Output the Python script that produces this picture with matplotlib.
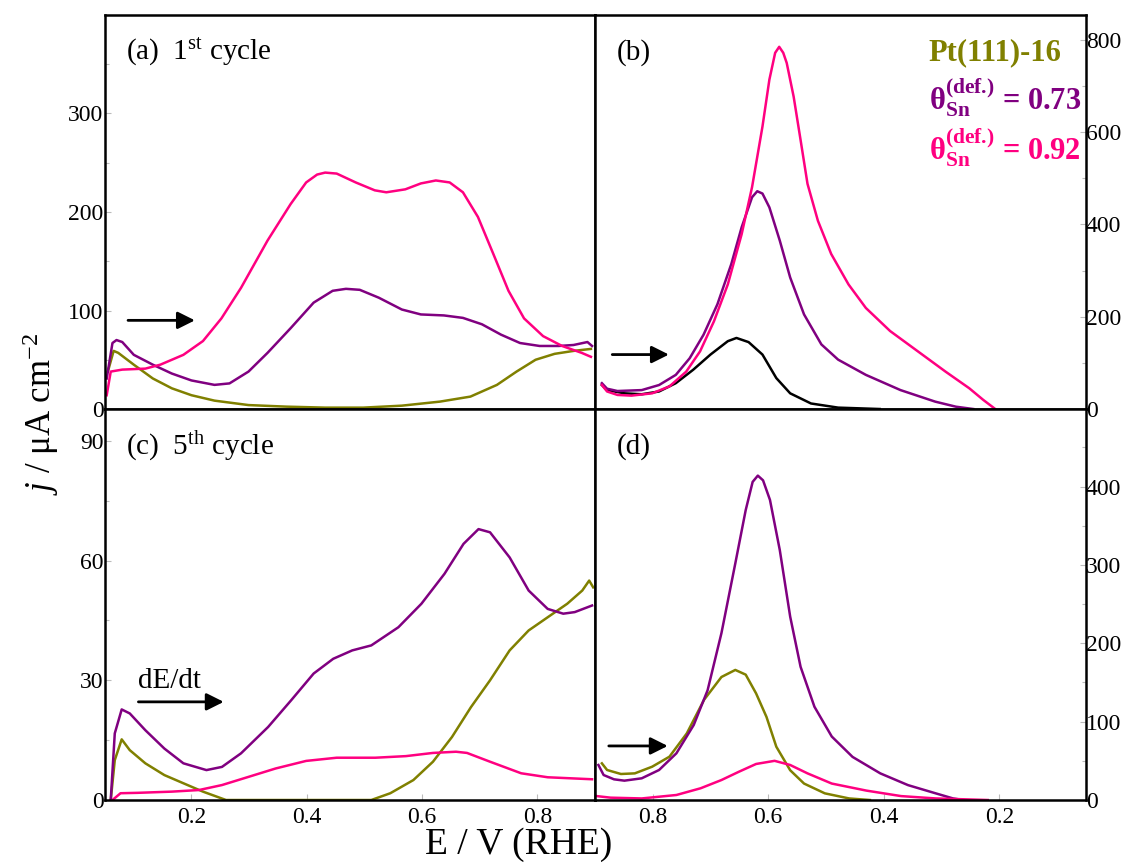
import matplotlib
matplotlib.use('Agg')
import matplotlib.pyplot as plt
from matplotlib.ticker import MultipleLocator

plt.rcParams['font.family'] = ['Liberation Serif', 'DejaVu Serif']
plt.rcParams['mathtext.fontset'] = 'custom'
plt.rcParams['mathtext.rm'] = 'Liberation Serif'
plt.rcParams['mathtext.it'] = 'Liberation Serif:italic'
plt.rcParams['mathtext.bf'] = 'Liberation Serif:bold'

OLIVE = '#808000'
PURPLE = '#800080'
PINK = '#FF0080'

''' (a) 1st cycle, positive-going scan '''
Ea_pink = [0.053, 0.06, 0.08, 0.12, 0.146, 0.186, 0.22, 0.252, 0.286, 0.332, 0.372, 0.399, 0.418,
           0.432, 0.452, 0.485, 0.518, 0.538, 0.571, 0.598, 0.624, 0.648, 0.671, 0.697, 0.724,
           0.75, 0.777, 0.81, 0.843, 0.877, 0.893]
ja_pink = [14, 38, 40, 41, 45, 55, 69, 92, 123, 171, 208, 230, 238,
           240, 239, 230, 222, 220, 223, 229, 232, 230, 220, 195, 157,
           120, 92, 74, 64, 57, 53]
Ea_purple = [0.053, 0.063, 0.07, 0.08, 0.1, 0.133, 0.166, 0.2, 0.24, 0.266, 0.299, 0.332, 0.372,
             0.412, 0.445, 0.468, 0.492, 0.525, 0.565, 0.598, 0.638, 0.671, 0.704, 0.737, 0.77,
             0.804, 0.837, 0.863, 0.887, 0.895]
ja_purple = [31, 67, 70, 68, 55, 45, 36, 29, 24.5, 26, 38, 57, 82,
             108, 120, 122, 121, 113, 101, 96, 95, 92.5, 86, 75.5, 67,
             64, 64, 65, 68, 64]
Ea_olive = [0.055, 0.065, 0.073, 0.1, 0.133, 0.166, 0.2, 0.24, 0.299, 0.365, 0.432, 0.498, 0.565,
            0.631, 0.684, 0.73, 0.764, 0.797, 0.83, 0.863, 0.893]
ja_olive = [38, 59, 57, 45, 31, 21, 14, 8.5, 4, 2.4, 1.4, 1.4, 3.4,
            7.5, 12.6, 24.5, 38, 50, 56, 59, 61]

''' (b) 1st cycle, negative-going scan '''
Eb_pink = [0.888, 0.879, 0.861, 0.837, 0.801, 0.771, 0.742, 0.718, 0.694, 0.67, 0.646, 0.628,
           0.61, 0.598, 0.588, 0.581, 0.574, 0.568, 0.556, 0.544, 0.532, 0.514, 0.491, 0.461,
           0.431, 0.389, 0.341, 0.293, 0.252, 0.228, 0.207]
jb_pink = [52, 38, 30.5, 29, 34, 49, 81, 125, 190, 270, 379, 481,
           612, 714, 772, 785, 772, 750, 677, 583, 488, 408, 336, 270,
           219, 169, 125, 81, 45, 20, 0]
Eb_purple = [0.888, 0.879, 0.861, 0.819, 0.789, 0.76, 0.736, 0.712, 0.688, 0.664, 0.646, 0.628,
             0.619, 0.61, 0.598, 0.58, 0.562, 0.538, 0.508, 0.479, 0.431, 0.371, 0.311, 0.275, 0.245]
jb_purple = [56, 44, 39, 41, 52, 74, 110, 161, 227, 314, 394, 459,
             472, 467, 437, 365, 285, 205, 140, 107, 74, 41, 16, 5, 0]
Eb_black = [0.888, 0.879, 0.849, 0.819, 0.789, 0.76, 0.73, 0.7, 0.67, 0.655, 0.634, 0.61,
            0.586, 0.562, 0.526, 0.479, 0.407]
jb_black = [52, 41, 34, 32, 38, 56, 85, 118, 147, 154, 145, 118,
            67, 34, 12, 3, 0]

''' (c) 5th cycle, positive-going scan '''
Ec_purple = [0.06, 0.067, 0.079, 0.093, 0.12, 0.153, 0.186, 0.226, 0.253, 0.286, 0.333, 0.373,
             0.412, 0.446, 0.479, 0.512, 0.559, 0.599, 0.639, 0.672, 0.698, 0.718, 0.752, 0.785,
             0.818, 0.845, 0.865, 0.895]
jc_purple = [0, 16.7, 22.7, 21.7, 17.5, 12.9, 9.2, 7.5, 8.3, 11.7, 18.3, 25,
             31.7, 35.4, 37.5, 38.75, 43.3, 49.2, 56.7, 64.2, 67.9, 67.1, 60.8, 52.5,
             47.9, 46.7, 47.1, 48.75]
Ec_olive = [0.06, 0.067, 0.079, 0.093, 0.12, 0.153, 0.186, 0.22, 0.26, 0.512, 0.545, 0.585,
            0.619, 0.652, 0.685, 0.718, 0.752, 0.785, 0.818, 0.852, 0.878, 0.89, 0.897]
jc_olive = [0, 10, 15.2, 12.5, 9.2, 6.25, 4.2, 2.1, 0, 0, 1.7, 5,
            9.6, 15.8, 23.3, 30, 37.5, 42.5, 45.8, 49.2, 52.5, 55, 53.3]
Ec_pink = [0.063, 0.077, 0.107, 0.166, 0.213, 0.253, 0.299, 0.346, 0.399, 0.452, 0.519, 0.572,
           0.619, 0.659, 0.678, 0.718, 0.772, 0.818, 0.895]
jc_pink = [0, 1.7, 1.8, 2.1, 2.5, 3.75, 5.8, 7.9, 9.8, 10.6, 10.6, 11,
           11.8, 12.1, 11.8, 9.6, 6.7, 5.7, 5.2]

''' (d) 5th cycle, negative-going scan '''
Ed_purple = [0.894, 0.885, 0.867, 0.849, 0.819, 0.789, 0.759, 0.729, 0.705, 0.681, 0.657, 0.639,
             0.627, 0.618, 0.609, 0.597, 0.58, 0.562, 0.544, 0.52, 0.49, 0.454, 0.406, 0.358,
             0.31, 0.28, 0.262]
jd_purple = [44.7, 31.9, 26.4, 24.7, 27.7, 38.3, 59.6, 95.7, 140, 213, 302, 370,
             406, 414, 408, 383, 319, 234, 170, 119, 81, 55, 34, 19,
             8.5, 2, 0]
Ed_olive = [0.888, 0.879, 0.855, 0.831, 0.801, 0.771, 0.741, 0.711, 0.681, 0.657, 0.639, 0.621,
            0.603, 0.586, 0.562, 0.538, 0.502, 0.46, 0.424]
jd_olive = [46.8, 38.3, 33.2, 34, 42.5, 55.3, 85, 128, 157, 166, 160, 136,
            106, 68, 38, 21, 8.5, 2, 0]
Ed_pink = [0.897, 0.873, 0.819, 0.759, 0.717, 0.681, 0.651, 0.621, 0.589, 0.562, 0.532, 0.49,
           0.43, 0.37, 0.31, 0.22]
jd_pink = [5, 3, 2, 6.4, 15, 25.5, 36, 46, 50, 44.7, 34, 21,
           12, 5, 2, 0]


fig = plt.figure(figsize=(11.3, 8.66), dpi=100)

ax_a = fig.add_axes([0.0929, 0.5277, 0.4336, 0.4550])
ax_b = fig.add_axes([0.5265, 0.5277, 0.4345, 0.4550])
ax_c = fig.add_axes([0.0929, 0.0762, 0.4336, 0.4515])
ax_d = fig.add_axes([0.5265, 0.0762, 0.4345, 0.4515])

lw = 1.8
ax_a.plot(Ea_olive, ja_olive, color=OLIVE, lw=lw)
ax_a.plot(Ea_purple, ja_purple, color=PURPLE, lw=lw)
ax_a.plot(Ea_pink, ja_pink, color=PINK, lw=lw)

ax_b.plot(Eb_black, jb_black, color='k', lw=lw)
ax_b.plot(Eb_purple, jb_purple, color=PURPLE, lw=lw)
ax_b.plot(Eb_pink, jb_pink, color=PINK, lw=lw)

ax_c.plot(Ec_olive, jc_olive, color=OLIVE, lw=lw)
ax_c.plot(Ec_purple, jc_purple, color=PURPLE, lw=lw)
ax_c.plot(Ec_pink, jc_pink, color=PINK, lw=lw)

ax_d.plot(Ed_olive, jd_olive, color=OLIVE, lw=lw)
ax_d.plot(Ed_purple, jd_purple, color=PURPLE, lw=lw)
ax_d.plot(Ed_pink, jd_pink, color=PINK, lw=lw)

# left column forward scan, right column reversed
for ax in (ax_a, ax_c):
    ax.set_xlim(0.05, 0.9)
for ax in (ax_b, ax_d):
    ax.set_xlim(0.9, 0.05)
ax_a.set_ylim(0, 400)
ax_b.set_ylim(0, 854)
ax_c.set_ylim(0, 98)
ax_d.set_ylim(0, 499)

ax_a.set_yticks([0, 100, 200, 300])
ax_a.yaxis.set_minor_locator(MultipleLocator(50))
ax_c.set_yticks([0, 30, 60, 90])
ax_c.yaxis.set_minor_locator(MultipleLocator(15))
ax_b.set_yticks([0, 200, 400, 600, 800])
ax_b.yaxis.set_minor_locator(MultipleLocator(100))
ax_d.set_yticks([0, 100, 200, 300, 400])
ax_d.yaxis.set_minor_locator(MultipleLocator(50))

ax_c.set_xticks([0.2, 0.4, 0.6, 0.8])
ax_c.set_xticklabels(['0.2', '0.4', '0.6', '0.8'])
ax_d.set_xticks([0.8, 0.6, 0.4, 0.2])
ax_d.set_xticklabels(['0.8', '0.6', '0.4', '0.2'])
ax_a.set_xticks([])
ax_b.set_xticks([])

for ax in (ax_a, ax_b, ax_c, ax_d):
    for s in ax.spines.values():
        s.set_linewidth(1.8)
        s.set_color('k')
    ax.tick_params(which='both', direction='in', color='#bbbbbb', width=0.8)
    ax.tick_params(which='major', length=4, labelsize=17)
    ax.tick_params(which='minor', length=3)
    ax.tick_params(axis='y', pad=1)
    ax.tick_params(axis='x', pad=5)

for ax in (ax_b, ax_d):
    ax.yaxis.tick_right()
    ax.tick_params(axis='y', which='both', left=False, right=True, pad=0)

# panel captions
ax_a.text(0.043, 0.905, r'(a)  1$^{\mathrm{st}}$ cycle', transform=ax_a.transAxes,
          fontsize=21, va='center', ha='left')
ax_b.text(0.045, 0.905, '(b)', transform=ax_b.transAxes, fontsize=21, va='center', ha='left')
ax_c.text(0.043, 0.905, r'(c)  5$^{\mathrm{th}}$ cycle', transform=ax_c.transAxes,
          fontsize=21, va='center', ha='left')
ax_d.text(0.045, 0.905, '(d)', transform=ax_d.transAxes, fontsize=21, va='center', ha='left')

# sample labels in (b)
theta = r'$\mathbf{θ}^{\mathbf{(def.\!)}}_{\mathbf{Sn}}$'
ax_b.text(0.68, 0.905, 'Pt(111)-16', transform=ax_b.transAxes, fontsize=22,
          fontweight='bold', color=OLIVE, va='center', ha='left')
ax_b.text(0.68, 0.79, theta + ' = 0.73', transform=ax_b.transAxes,
          fontsize=22, fontweight='bold', color=PURPLE, va='center', ha='left')
ax_b.text(0.68, 0.665, theta + ' = 0.92', transform=ax_b.transAxes,
          fontsize=22, fontweight='bold', color=PINK, va='center', ha='left')

# scan direction arrows
arr = dict(arrowstyle='-|>', lw=2, color='k', mutation_scale=26, shrinkA=0, shrinkB=0)
ax_a.annotate('', xy=(0.206, 90), xytext=(0.09, 90), arrowprops=arr)
ax_b.annotate('', xy=(0.772, 118), xytext=(0.87, 118), arrowprops=arr)
ax_c.annotate('', xy=(0.256, 24.6), xytext=(0.108, 24.6), arrowprops=arr)
ax_c.text(0.108, 26.5, 'dE/dt', fontsize=21, ha='left', va='bottom')
ax_d.annotate('', xy=(0.774, 69), xytext=(0.876, 69), arrowprops=arr)

fig.text(0.459, 0.014, 'E / V (RHE)', fontsize=27, ha='center', va='baseline')
fig.text(0.036, 0.522, r'$j$ / μA cm$^{-2}$', fontsize=25, rotation=90, ha='center', va='center')

fig.savefig('out.png', dpi=100)
